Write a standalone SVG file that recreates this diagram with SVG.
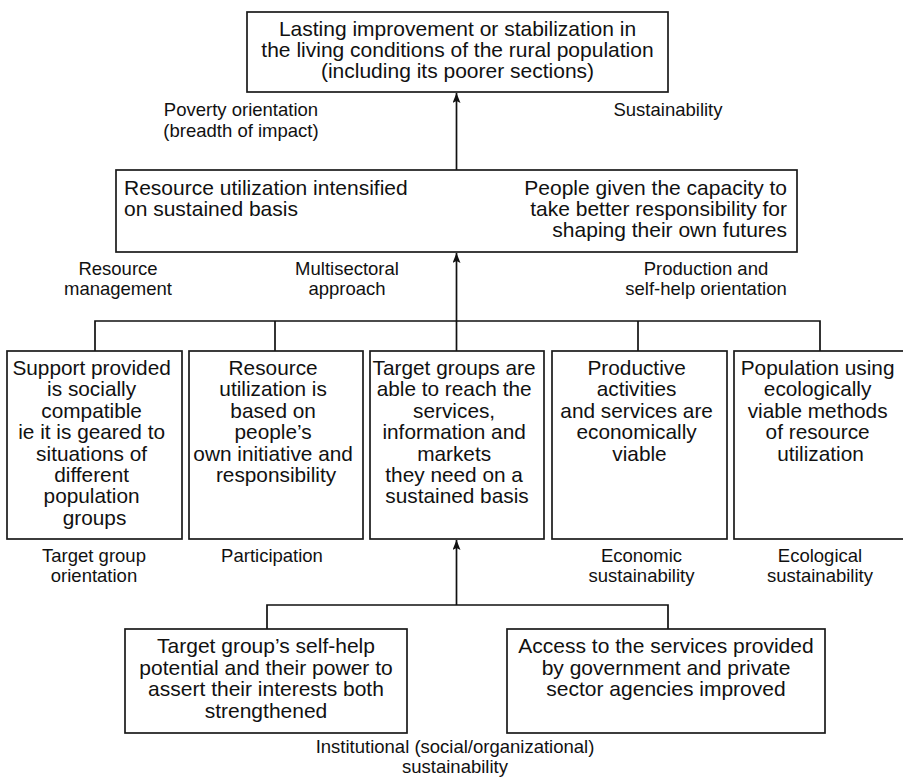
<svg xmlns="http://www.w3.org/2000/svg" width="903" height="778" viewBox="0 0 903 778">
  <style>
    .box { fill: #ffffff; stroke: #1a1a1a; stroke-width: 1.7; }
    .wire { fill: none; stroke: #111111; stroke-width: 1.7; }
    .t { font-family: "Liberation Sans", Arial, Helvetica, sans-serif; font-size: 21px; fill: #111111; }
    .tb { font-family: "Liberation Sans", Arial, Helvetica, sans-serif; font-size: 20.8px; fill: #111111; text-anchor: middle; }
    .lbl { font-family: "Liberation Sans", Arial, Helvetica, sans-serif; font-size: 18.5px; fill: #111111; text-anchor: middle; }
    .mid { text-anchor: middle; }
    .end { text-anchor: end; }
  </style>
  <defs>
    <marker id="arrow" viewBox="0 0 10 8" refX="10" refY="4" markerWidth="10" markerHeight="8" markerUnits="userSpaceOnUse" orient="auto">
      <path d="M0,0 L10,4 L0,8 L2,4 z" fill="#111111"/>
    </marker>
  </defs>

  <!-- connectors -->
  <g id="connectors">
    <!-- lower branch feeding the access box -->
    <path class="wire" d="M267,629 V605 H668 V629"/>
    <path class="wire" d="M456.5,605 V540" marker-end="url(#arrow)"/>
    <!-- branch joining the five result boxes -->
    <path class="wire" d="M95,351 V321 H820 V351"/>
    <path class="wire" d="M275,321 V351"/>
    <path class="wire" d="M638,321 V351"/>
    <path class="wire" d="M456.5,351 V321"/>
    <path class="wire" d="M456.5,321 V253" marker-end="url(#arrow)"/>
    <!-- divider through the middle box up to the goal -->
    <path class="wire" d="M456.5,252 V93" marker-end="url(#arrow)"/>
  </g>

  <!-- goal -->
  <g id="goal">
    <rect class="box" x="247" y="12" width="421" height="80"/>
    <text class="t mid" x="457.5" y="36">Lasting improvement or stabilization in</text>
    <text class="t mid" x="457.5" y="57">the living conditions of the rural population</text>
    <text class="t mid" x="457.5" y="78">(including its poorer sections)</text>
  </g>

  <!-- intermediate objectives -->
  <g id="purpose">
    <rect class="box" x="116" y="170" width="681" height="82"/>
    <text class="t" x="124" y="195">Resource utilization intensified</text>
    <text class="t" x="124" y="216">on sustained basis</text>
    <text class="t end" x="787" y="195">People given the capacity to</text>
    <text class="t end" x="787" y="216">take better responsibility for</text>
    <text class="t end" x="787" y="237">shaping their own futures</text>
  </g>

  <g id="label-poverty">
    <text class="lbl" x="241" y="116">Poverty orientation</text>
    <text class="lbl" x="241" y="137">(breadth of impact)</text>
  </g>
  <g id="label-sustainability">
    <text class="lbl" x="668" y="116">Sustainability</text>
  </g>
  <g id="label-resource">
    <text class="lbl" x="118" y="275">Resource</text>
    <text class="lbl" x="118" y="295">management</text>
  </g>
  <g id="label-multisectoral">
    <text class="lbl" x="347" y="275">Multisectoral</text>
    <text class="lbl" x="347" y="295">approach</text>
  </g>
  <g id="label-production">
    <text class="lbl" x="706" y="275">Production and</text>
    <text class="lbl" x="706" y="295">self-help orientation</text>
  </g>

  <!-- results row -->
  <g id="social">
    <rect class="box" x="7" y="351" width="175" height="188"/>
    <text class="tb" x="94.5" y="375">
      <tspan x="94.5">Support provided</tspan>
      <tspan x="94.5" dy="21.4">is socially</tspan>
      <tspan x="94.5" dy="21.4">compatible</tspan>
      <tspan x="94.5" dy="21.4">ie it is geared to</tspan>
      <tspan x="94.5" dy="21.4">situations of</tspan>
      <tspan x="94.5" dy="21.4">different</tspan>
      <tspan x="94.5" dy="21.4">population</tspan>
      <tspan x="94.5" dy="21.4">groups</tspan>
    </text>
  </g>
  <g id="initiative">
    <rect class="box" x="189" y="351" width="174" height="188"/>
    <text class="tb" x="276" y="375">
      <tspan x="276">Resource</tspan>
      <tspan x="276" dy="21.4">utilization is</tspan>
      <tspan x="276" dy="21.4">based on</tspan>
      <tspan x="276" dy="21.4">people’s</tspan>
      <tspan x="276" dy="21.4">own initiative and</tspan>
      <tspan x="276" dy="21.4">responsibility</tspan>
    </text>
  </g>
  <g id="access">
    <rect class="box" x="370" y="351" width="174" height="188"/>
    <text class="tb" x="457" y="375">
      <tspan x="457">Target groups are</tspan>
      <tspan x="457" dy="21.4">able to reach the</tspan>
      <tspan x="457" dy="21.4">services,</tspan>
      <tspan x="457" dy="21.4">information and</tspan>
      <tspan x="457" dy="21.4">markets</tspan>
      <tspan x="457" dy="21.4">they need on a</tspan>
      <tspan x="457" dy="21.4">sustained basis</tspan>
    </text>
  </g>
  <g id="economic">
    <rect class="box" x="552" y="351" width="175" height="188"/>
    <text class="tb" x="639.5" y="375">
      <tspan x="639.5">Productive</tspan>
      <tspan x="639.5" dy="21.4">activities</tspan>
      <tspan x="639.5" dy="21.4">and services are</tspan>
      <tspan x="639.5" dy="21.4">economically</tspan>
      <tspan x="639.5" dy="21.4">viable</tspan>
    </text>
  </g>
  <g id="ecological">
    <rect class="box" x="734" y="351" width="174" height="188"/>
    <text class="tb" x="820.5" y="375">
      <tspan x="820.5">Population using</tspan>
      <tspan x="820.5" dy="21.4">ecologically</tspan>
      <tspan x="820.5" dy="21.4">viable methods</tspan>
      <tspan x="820.5" dy="21.4">of resource</tspan>
      <tspan x="820.5" dy="21.4">utilization</tspan>
    </text>
  </g>

  <g id="label-target">
    <text class="lbl" x="94" y="562">Target group</text>
    <text class="lbl" x="94" y="581.5">orientation</text>
  </g>
  <g id="label-participation">
    <text class="lbl" x="272" y="562">Participation</text>
  </g>
  <g id="label-economic">
    <text class="lbl" x="641.5" y="562">Economic</text>
    <text class="lbl" x="641.5" y="581.5">sustainability</text>
  </g>
  <g id="label-ecological">
    <text class="lbl" x="820" y="562">Ecological</text>
    <text class="lbl" x="820" y="581.5">sustainability</text>
  </g>

  <!-- activity-level results -->
  <g id="self-help">
    <rect class="box" x="125" y="629" width="282" height="104"/>
    <text class="t mid" x="266" y="653">Target group’s self-help</text>
    <text class="t mid" x="266" y="674.5">potential and their power to</text>
    <text class="t mid" x="266" y="696">assert their interests both</text>
    <text class="t mid" x="266" y="717.5">strengthened</text>
  </g>
  <g id="services">
    <rect class="box" x="507" y="629" width="318" height="104"/>
    <text class="t mid" x="666" y="653">Access to the services provided</text>
    <text class="t mid" x="666" y="674.5">by government and private</text>
    <text class="t mid" x="666" y="696">sector agencies improved</text>
  </g>

  <g id="label-institutional">
    <text class="lbl" x="455" y="753">Institutional (social/organizational)</text>
    <text class="lbl" x="455" y="772.5">sustainability</text>
  </g>
</svg>
